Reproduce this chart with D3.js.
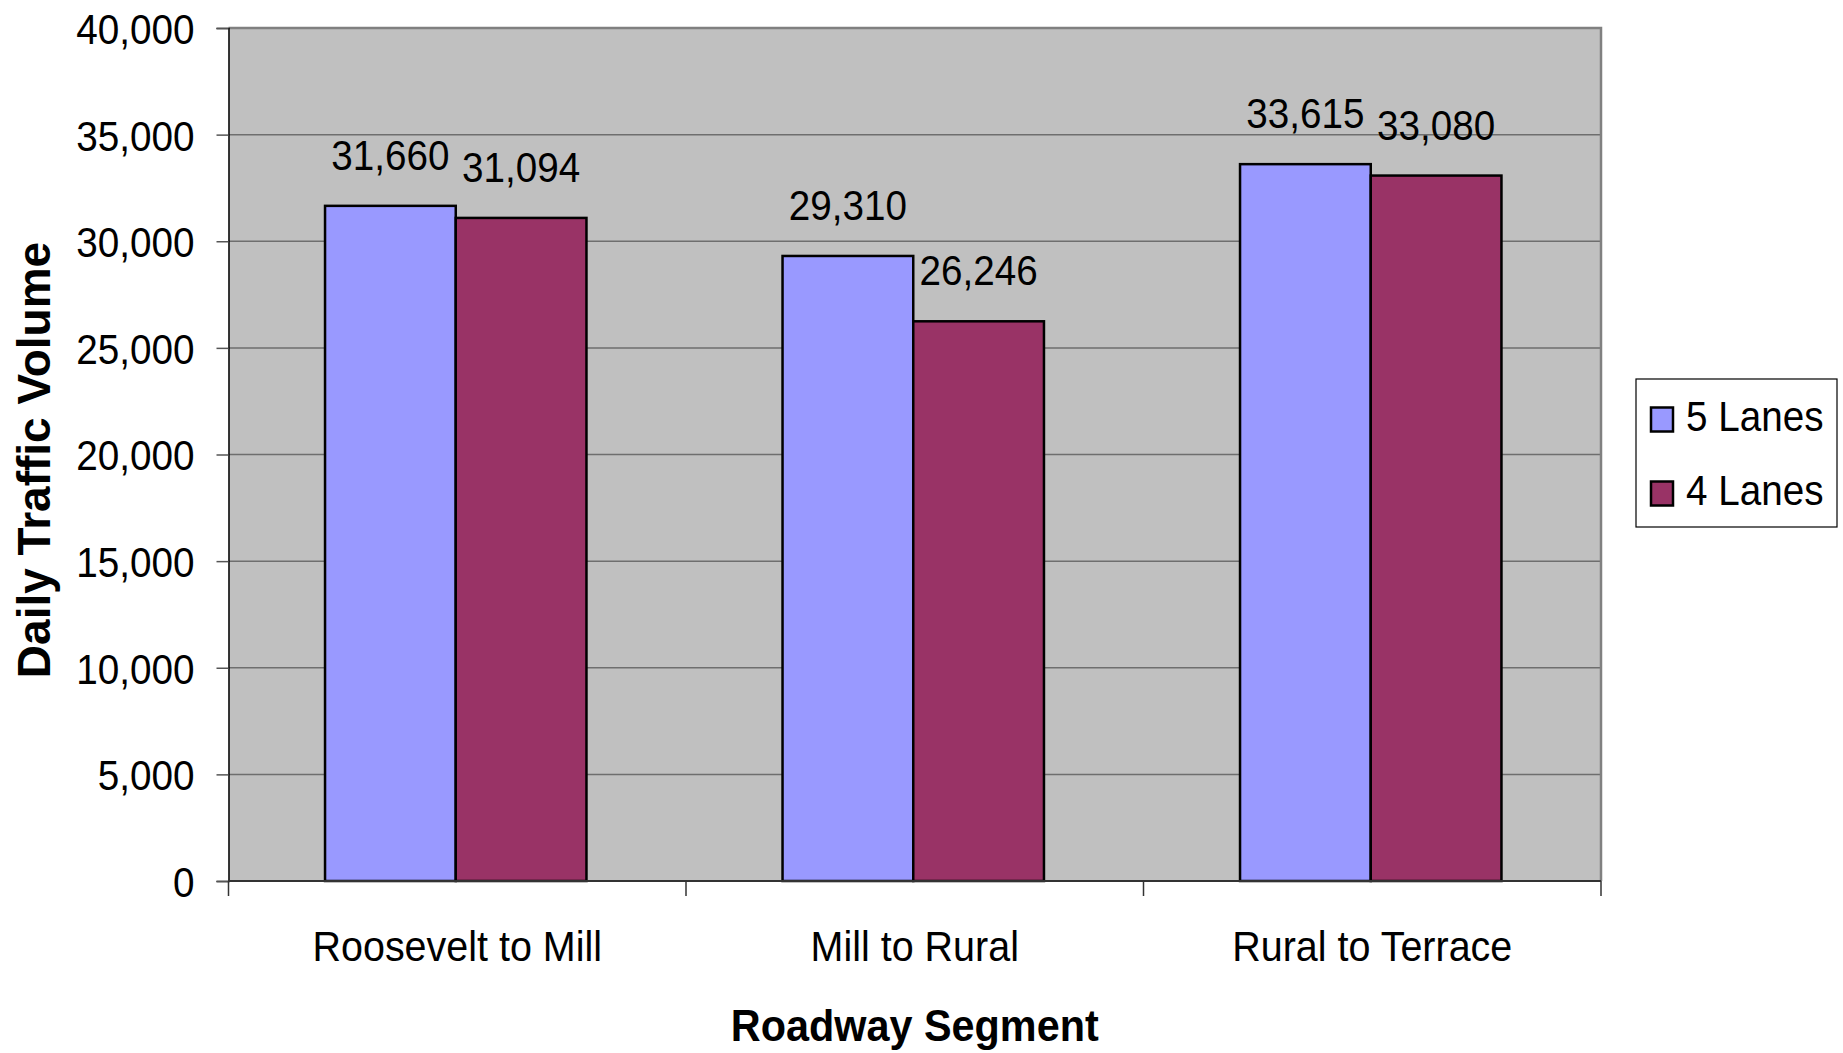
<!DOCTYPE html>
<html>
<head>
<meta charset="utf-8">
<script src="https://cdn.jsdelivr.net/npm/d3@7/dist/d3.min.js"></script>
<style>
  html, body { margin: 0; padding: 0; background: #ffffff; }
  svg { display: block; }
  text { font-family: "Liberation Sans", Arial, Helvetica, sans-serif; fill: #000; }
</style>
</head>
<body>
<svg id="chart" width="1843" height="1053"></svg>
<script>
// Daily traffic volume by roadway segment, 5-lane vs 4-lane configuration
const categories = ["Roosevelt to Mill", "Mill to Rural", "Rural to Terrace"];
const seriesNames = ["5 Lanes", "4 Lanes"];
const lanes5 = [31660, 29310, 33615];
const lanes4 = [31094, 26246, 33080];
const yTicks = [0, 5000, 10000, 15000, 20000, 25000, 30000, 35000, 40000];
const seriesColors = ["#9999FF", "#993366"];

const svg = d3.select("#chart");
const plot = { left: 228.5, right: 1601, top: 28, bottom: 881 };

const x0 = d3.scaleBand()
  .domain(categories)
  .range([plot.left, plot.right])
  .paddingInner(0)
  .paddingOuter(0);

// two bars per group, 150% gap between groups
const x1 = d3.scaleBand()
  .domain(seriesNames)
  .range([-1.5, x0.bandwidth() - 1.5])
  .paddingInner(0)
  .paddingOuter(0.75);

const y = d3.scaleLinear().domain([0, 40000]).range([plot.bottom, plot.top]);
const fmt = d3.format(",");

// plot background
svg.append("rect")
  .attr("x", plot.left).attr("y", plot.top)
  .attr("width", plot.right - plot.left)
  .attr("height", plot.bottom - plot.top)
  .attr("fill", "#C0C0C0");

// horizontal gridlines
svg.append("g")
  .selectAll("line")
  .data(yTicks.filter(d => d > 0 && d < 40000))
  .join("line")
  .attr("x1", plot.left).attr("x2", plot.right)
  .attr("y1", d => y(d)).attr("y2", d => y(d))
  .attr("stroke", "#6e6e6e")
  .attr("stroke-width", 1.5);

// plot frame: top and right edges
svg.append("path")
  .attr("d", `M${plot.left},${plot.top}H${plot.right}V${plot.bottom}`)
  .attr("fill", "none")
  .attr("stroke", "#808080")
  .attr("stroke-width", 2.5);

// bars
const rows = categories.map((c, i) => ({ cat: c, values: [lanes5[i], lanes4[i]] }));
const groups = svg.append("g")
  .selectAll("g")
  .data(rows)
  .join("g")
  .attr("transform", d => `translate(${x0(d.cat)},0)`);

groups.selectAll("rect")
  .data(d => d.values.map((v, k) => ({ key: seriesNames[k], value: v, k })))
  .join("rect")
  .attr("x", d => x1(d.key))
  .attr("y", d => y(d.value))
  .attr("width", x1.bandwidth())
  .attr("height", d => y(0) - y(d.value))
  .attr("fill", d => seriesColors[d.k])
  .attr("stroke", "#000")
  .attr("stroke-width", 2.5);

// value labels above bars
groups.selectAll("text")
  .data(d => d.values.map((v, k) => ({ key: seriesNames[k], value: v })))
  .join("text")
  .attr("transform", d => `translate(${x1(d.key) + x1.bandwidth() / 2},${y(d.value) - 36}) scale(0.92,1)`)
  .attr("text-anchor", "middle")
  .style("font-size", "42px")
  .text(d => fmt(d.value));

// y axis
const yAxis = svg.append("g")
  .attr("transform", `translate(${plot.left},0)`)
  .call(d3.axisLeft(y).tickValues(yTicks).tickFormat(fmt).tickSize(12).tickPadding(22));
yAxis.select(".domain").attr("stroke", "#000").attr("stroke-width", 1.5);
yAxis.selectAll(".tick line").attr("stroke", "#555").attr("stroke-width", 1.5);
yAxis.selectAll(".tick text")
  .style("font-size", "43px")
  .style("font-family", "'Liberation Sans', Arial, sans-serif")
  .attr("fill", "#000")
  .attr("dy", "0.36em")
  .attr("transform", function () {
    // narrow the glyphs slightly, anchored at the right end
    const xPos = +d3.select(this).attr("x");
    return `translate(${xPos},0) scale(0.9,1) translate(${-xPos},0)`;
  });

// x axis line and category separators
svg.append("line")
  .attr("x1", plot.left).attr("x2", plot.right)
  .attr("y1", plot.bottom).attr("y2", plot.bottom)
  .attr("stroke", "#333").attr("stroke-width", 2);

const boundaries = categories.map(c => x0(c)).concat([plot.right]);
svg.append("g")
  .selectAll("line")
  .data(boundaries)
  .join("line")
  .attr("x1", d => d).attr("x2", d => d)
  .attr("y1", plot.bottom).attr("y2", plot.bottom + 15)
  .attr("stroke", "#333").attr("stroke-width", 1.5);

svg.append("g")
  .selectAll("text")
  .data(categories)
  .join("text")
  .attr("transform", d => `translate(${x0(d) + x0.bandwidth() / 2},961) scale(0.94,1)`)
  .attr("text-anchor", "middle")
  .style("font-size", "42px")
  .text(d => d);

// axis titles
svg.append("text")
  .attr("transform", `translate(${(plot.left + plot.right) / 2},1041) scale(0.92,1)`)
  .attr("text-anchor", "middle")
  .style("font-size", "45px")
  .style("font-weight", "bold")
  .text("Roadway Segment");

svg.append("text")
  .attr("transform", `translate(50,460) rotate(-90)`)
  .attr("text-anchor", "middle")
  .style("font-size", "46px")
  .style("font-weight", "bold")
  .text("Daily Traffic Volume");

// legend
const legend = svg.append("g");
legend.append("rect")
  .attr("x", 1636).attr("y", 379)
  .attr("width", 201).attr("height", 148)
  .attr("fill", "#fff")
  .attr("stroke", "#000").attr("stroke-width", 1.2);

const legendRow = d3.scalePoint().domain(seriesNames).range([419.5, 493.5]);
const items = legend.selectAll("g.item")
  .data(seriesNames)
  .join("g")
  .attr("class", "item")
  .attr("transform", d => `translate(0,${legendRow(d)})`);

items.append("rect")
  .attr("x", 1651).attr("y", -12)
  .attr("width", 22).attr("height", 24)
  .attr("fill", (d, i) => seriesColors[i])
  .attr("stroke", "#000").attr("stroke-width", 2.5);

items.append("text")
  .attr("transform", "translate(1686,11) scale(0.92,1)")
  .style("font-size", "42px")
  .text(d => d);
</script>
</body>
</html>
